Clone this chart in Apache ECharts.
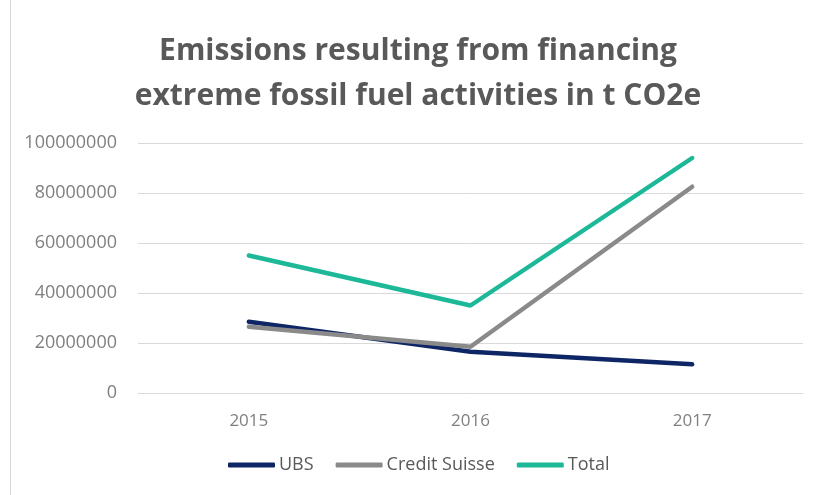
<!DOCTYPE html>
<html><head><meta charset="utf-8">
<script src="https://cdn.jsdelivr.net/npm/echarts@6/dist/echarts.min.js"></script>
<style>html,body{margin:0;padding:0;background:#fff}#c{width:820px;height:495px}</style>
</head><body><div id="c"></div>
<script>
const categories = ['2015', '2016', '2017'];
const ubs = [28500000, 16500000, 11500000];
const creditSuisse = [26500000, 18500000, 82500000];
const total = [55000000, 35000000, 94000000];
const yTicks = [0, 20000000, 40000000, 60000000, 80000000, 100000000];

const chart = echarts.init(document.getElementById('c'), null, {renderer: 'canvas'});
const font = '"Open Sans", "Noto Sans", sans-serif';
chart.setOption({
  animation: false,
  backgroundColor: '#fff',
  title: {
    text: 'Emissions resulting from financing\nextreme fossil fuel activities in t CO2e',
    left: 418, textAlign: 'center', top: 29, padding: 0,
    textStyle: {fontFamily: font, fontWeight: 'bold', fontSize: 30, color: '#595959', lineHeight: 45}
  },
  legend: {
    bottom: 16, left: 223, itemWidth: 47, itemHeight: 5, itemGap: 22,
    icon: 'roundRect',
    textStyle: {fontFamily: font, fontSize: 18, color: '#595959', padding: [0,0,0,-1]},
    data: ['UBS', 'Credit Suisse', 'Total']
  },
  grid: {left: 138, right: 17, top: 143, bottom: 102, containLabel: false},
  xAxis: {
    type: 'category', data: categories, boundaryGap: true,
    axisLine: {show: false}, axisTick: {show: false},
    axisLabel: {fontFamily: font, fontSize: 17, color: '#7f7f7f', margin: 20}
  },
  yAxis: {
    type: 'value', min: yTicks[0], max: yTicks[yTicks.length-1], interval: 20000000,
    axisLine: {show: false}, axisTick: {show: false},
    axisLabel: {fontFamily: font, fontSize: 18, color: '#7f7f7f', margin: 21, formatter: v => String(v)},
    splitLine: {lineStyle: {color: '#d9d9d9', width: 1}}
  },
  series: [
    {name: 'UBS', type: 'line', data: ubs, symbol: 'none', lineStyle: {width: 4.5, color: '#0e2566', cap: 'round'}, itemStyle: {color: '#0e2566'}},
    {name: 'Credit Suisse', type: 'line', data: creditSuisse, symbol: 'none', lineStyle: {width: 4.5, color: '#8a8a8a', cap: 'round'}, itemStyle: {color: '#8a8a8a'}},
    {name: 'Total', type: 'line', data: total, symbol: 'none', lineStyle: {width: 4.5, color: '#1cb898', cap: 'round'}, itemStyle: {color: '#1cb898'}}
  ],
  graphic: [{type: 'line', shape: {x1: 10.5, y1: 0, x2: 10.5, y2: 495}, style: {stroke: '#d9d9d9', lineWidth: 1}}]
});
</script></body></html>
